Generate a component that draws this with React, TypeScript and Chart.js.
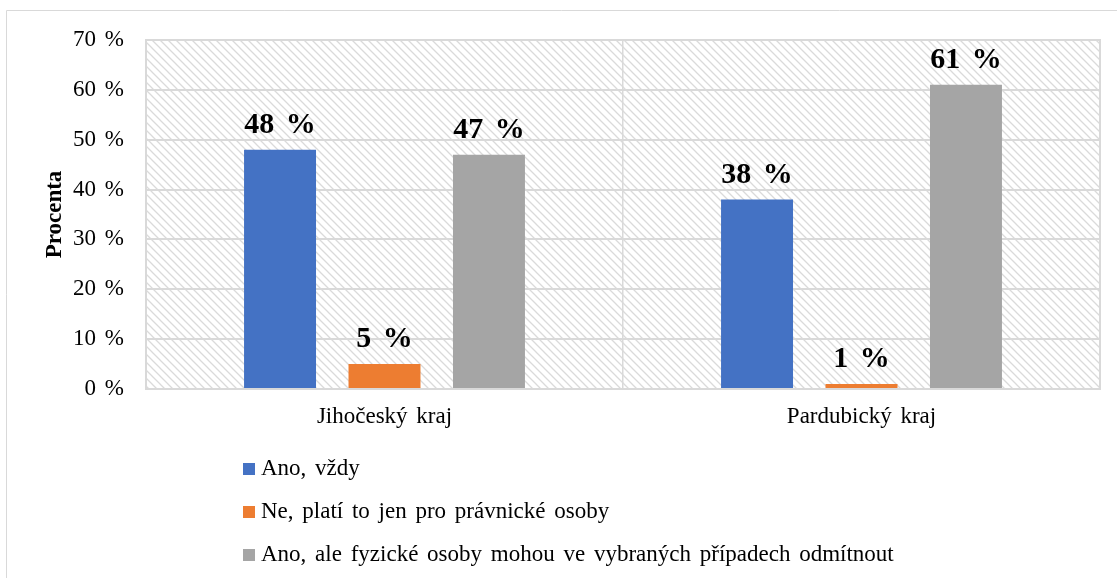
import React, { useEffect, useRef } from "react";
import { Chart, registerables } from "chart.js";

Chart.register(...registerables);

const categories = ["Jihočeský kraj", "Pardubický kraj"];
const seriesNames = [
  "Ano, vždy",
  "Ne, platí to jen pro právnické osoby",
  "Ano, ale fyzické osoby mohou ve vybraných případech odmítnout",
];
const anoVzdy = [48, 38];
const jenPravnicke = [5, 1];
const fyzickeOdmitnout = [47, 61];
const yTicks = [0, 10, 20, 30, 40, 50, 60, 70];
const colors = ["#4472C4", "#ED7D31", "#A5A5A5"];

const FONT = "'Liberation Serif', 'Times New Roman', serif";

function makePattern(ctx: CanvasRenderingContext2D) {
  const c = document.createElement("canvas");
  c.width = 8;
  c.height = 8;
  const p = c.getContext("2d")!;
  p.strokeStyle = "#dadada";
  p.lineWidth = 1.3;
  p.beginPath();
  p.moveTo(-2, -2);
  p.lineTo(10, 10);
  p.moveTo(-10, -2);
  p.lineTo(2, 10);
  p.moveTo(6, -2);
  p.lineTo(18, 10);
  p.stroke();
  return ctx.createPattern(c, "repeat");
}

const backgroundPlugin = {
  id: "bgHatch",
  beforeDraw(chart: any) {
    const { ctx, chartArea } = chart;
    (ctx as any).wordSpacing = "3px";
    ctx.save();
    ctx.strokeStyle = "#d9d9d9";
    ctx.lineWidth = 1;
    ctx.beginPath();
    ctx.moveTo(6.5, 578);
    ctx.lineTo(6.5, 10.5);
    ctx.lineTo(1117, 10.5);
    ctx.stroke();
    const pat = makePattern(ctx);
    if (pat) {
      ctx.fillStyle = pat;
      ctx.fillRect(chartArea.left, chartArea.top, chartArea.right - chartArea.left, chartArea.bottom - chartArea.top);
    }
    ctx.restore();
  },
  afterDraw(chart: any) {
    const { ctx, chartArea } = chart;
    ctx.save();
    ctx.strokeStyle = "#d9d9d9";
    ctx.lineWidth = 2;
    ctx.strokeRect(chartArea.left, chartArea.top, chartArea.right - chartArea.left, chartArea.bottom - chartArea.top);
    ctx.restore();
  },
};

const dataLabelPlugin = {
  id: "dataLabels",
  afterDatasetsDraw(chart: any) {
    const { ctx } = chart;
    ctx.save();
    (ctx as any).wordSpacing = "4px";
    ctx.font = `bold 30px ${FONT}`;
    ctx.fillStyle = "#000";
    ctx.textAlign = "center";
    ctx.textBaseline = "alphabetic";
    chart.data.datasets.forEach((ds: any, di: number) => {
      const meta = chart.getDatasetMeta(di);
      meta.data.forEach((el: any, i: number) => {
        ctx.fillText(`${ds.data[i]} %`, el.x, el.y - 17);
      });
    });
    ctx.restore();
  },
};

const legendPlugin = {
  id: "customLegend",
  afterDraw(chart: any) {
    const { ctx } = chart;
    ctx.save();
    (ctx as any).wordSpacing = "3px";
    ctx.font = `23px ${FONT}`;
    ctx.textBaseline = "middle";
    ctx.textAlign = "left";
    const rows = [469, 512, 555];
    chart.data.datasets.forEach((ds: any, i: number) => {
      const y = rows[i];
      ctx.fillStyle = ds.backgroundColor;
      ctx.fillRect(243, y - 6, 12, 12);
      ctx.fillStyle = "#000";
      ctx.fillText(ds.label, 261, y);
    });
    ctx.restore();
  },
};

export default function App() {
  const ref = useRef<HTMLCanvasElement>(null);
  useEffect(() => {
    if (!ref.current) return;
    const chart = new Chart(ref.current, {
      type: "bar",
      data: {
        labels: categories,
        datasets: [anoVzdy, jenPravnicke, fyzickeOdmitnout].map((d, i) => ({
          label: seriesNames[i],
          data: d,
          backgroundColor: colors[i],
          categoryPercentage: 0.657,
          barPercentage: 0.689,
        })),
      },
      options: {
        responsive: false,
        animation: false,
        layout: { padding: { left: 0, right: 17, top: 40, bottom: 129 } },
        plugins: {
          legend: { display: false },
          tooltip: { enabled: false },
        },
        scales: {
          x: {
            grid: { color: "#d9d9d9", lineWidth: 1.5, drawTicks: false, offset: true },
            border: { display: true, color: "#d9d9d9", width: 2 },
            ticks: { font: { family: FONT, size: 23 }, color: "#000", padding: 14 },
            afterFit: (s: any) => {
              s.height = 60;
            },
          },
          y: {
            min: 0,
            max: 70,
            afterBuildTicks: (s: any) => {
              s.ticks = yTicks.map((v) => ({ value: v }));
            },
            grid: { color: "#d9d9d9", lineWidth: 2, drawTicks: false },
            border: { display: false },
            ticks: {
              font: { family: FONT, size: 23 },
              color: "#000",
              padding: 22,
              callback: (v: any) => `${v} %`,
            },
            title: {
              display: true,
              text: "Procenta",
              color: "#000",
              font: { family: FONT, size: 23, weight: "bold" },
              padding: { top: 41, bottom: 0 },
            },
            afterFit: (s: any) => {
              s.width = 146;
            },
          },
        },
      },
      plugins: [backgroundPlugin, dataLabelPlugin, legendPlugin],
    });
    return () => chart.destroy();
  }, []);
  return (
    <div style={{ position: "fixed", left: 0, top: 0, width: 1117, height: 578, background: "#fff" }}>
      <canvas ref={ref} width={1117} height={578} style={{ display: "block" }} />
    </div>
  );
}
